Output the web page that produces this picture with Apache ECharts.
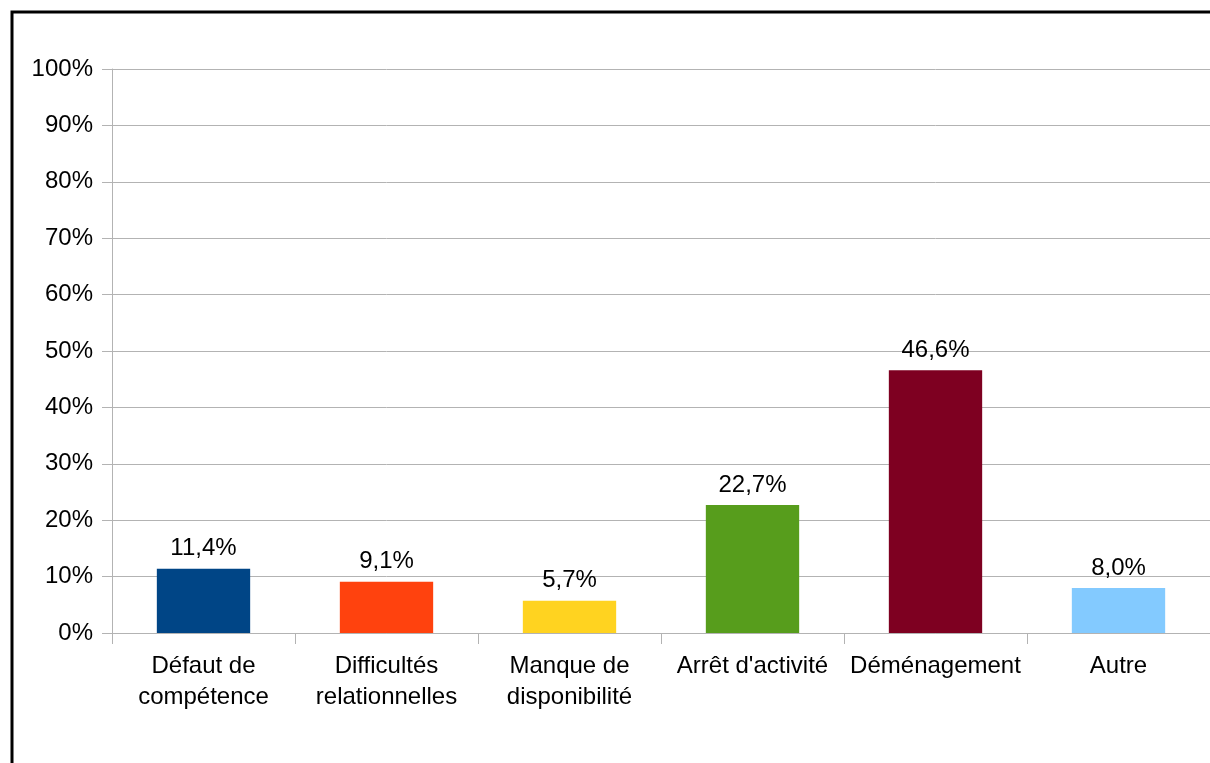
<!DOCTYPE html>
<html><head><meta charset="utf-8">
<script src="https://cdn.jsdelivr.net/npm/echarts@6/dist/echarts.min.js"></script>
<style>html,body{margin:0;padding:0;background:#fff;}#c{width:1210px;height:763px;}</style>
</head><body><div id="c"></div>
<script>
const categories = ["Défaut de\ncompétence", "Difficultés\nrelationnelles", "Manque de\ndisponibilité", "Arrêt d'activité", "Déménagement", "Autre"];
const values = [11.4, 9.1, 5.7, 22.7, 46.6, 8.0];
const colors = ["#004586", "#ff420e", "#ffd320", "#579d1c", "#7e0021", "#83caff"];
const yTicks = [0, 10, 20, 30, 40, 50, 60, 70, 80, 90, 100];

const chart = echarts.init(document.getElementById('c'), null, {renderer: 'canvas'});
const font = 'Liberation Sans, Arial, sans-serif';
chart.setOption({
  animation: false,
  backgroundColor: '#fff',
  textStyle: {fontFamily: font},
  graphic: [{
    type: 'rect', shape: {x: 12, y: 12, width: 1400, height: 1000},
    style: {fill: 'none', stroke: '#000', lineWidth: 3}, silent: true, z: 100
  }],
  grid: {left: 112, right: -1, top: 69, bottom: 130, containLabel: false},
  xAxis: {
    type: 'category', data: categories,
    axisLine: {lineStyle: {color: '#b3b3b3', width: 1}},
    axisTick: {show: true, length: 11, lineStyle: {color: '#b3b3b3'}},
    axisLabel: {color: '#000', fontSize: 24, fontFamily: font, margin: 18, lineHeight: 31, interval: 0}
  },
  yAxis: {
    type: 'value', min: yTicks[0], max: yTicks[yTicks.length - 1], interval: 10,
    axisLine: {show: true, lineStyle: {color: '#b3b3b3', width: 1}},
    axisTick: {show: true, length: 10, lineStyle: {color: '#b3b3b3'}},
    splitLine: {lineStyle: {color: '#b3b3b3', width: 1}},
    axisLabel: {color: '#000', fontSize: 24, fontFamily: font, margin: 19, formatter: v => v + '%'}
  },
  series: [{
    type: 'bar', barWidth: '51%',
    data: values.map((v, i) => ({value: v, itemStyle: {color: colors[i]}})),
    label: {show: true, position: 'top', distance: 8, color: '#000', fontSize: 24, fontFamily: font,
      formatter: p => p.value.toFixed(1).replace('.', ',') + '%'}
  }]
});
</script></body></html>
